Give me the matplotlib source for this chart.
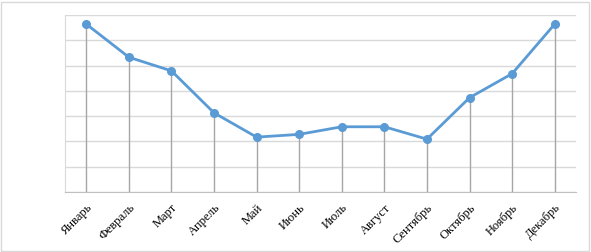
import matplotlib.pyplot as plt
from matplotlib.patches import Rectangle

# Monthly values
months = ["Январь", "Февраль", "Март", "Апрель", "Май", "Июнь",
          "Июль", "Август", "Сентябрь", "Октябрь", "Ноябрь", "Декабрь"]
values = [6.64, 5.33, 4.79, 3.13, 2.17, 2.28, 2.58, 2.58, 2.09, 3.73, 4.68, 6.64]

line_color = "#5B9BD5"

fig = plt.figure(figsize=(5.91, 2.52), dpi=100)
ax = fig.add_axes([65 / 591, 1 - 192 / 252, (576 - 65) / 591, (192 - 15) / 252])

x = list(range(len(months)))

# drop lines from each point down to the axis
ax.vlines(x, 0, values, color="#A6A6A6", linewidth=1, zorder=2)
ax.plot(x, values, color=line_color, linewidth=2, marker="o",
        markersize=5.5, zorder=3)

ax.set_xlim(-0.5, len(months) - 0.5)
ax.set_ylim(0, 7)
ax.set_yticks(range(0, 8))
ax.set_yticklabels([])
ax.tick_params(axis="y", length=0)
ax.grid(axis="y", color="#D9D9D9", linewidth=1)
ax.set_axisbelow(True)

ax.set_xticks(x)
ax.set_xticklabels(months, rotation=45, ha="right", va="top",
                   rotation_mode="anchor", fontsize=9,
                   family="Liberation Serif")
ax.tick_params(axis="x", length=0, pad=7)

for side in ["top", "right"]:
    ax.spines[side].set_visible(False)
ax.spines["left"].set_color("#D9D9D9")
ax.spines["bottom"].set_color("#BFBFBF")

# outer chart border
fig.patches.append(Rectangle((1 / 591, 1 / 252), 588 / 591, 249 / 252,
                             transform=fig.transFigure, fill=False,
                             edgecolor="#D9D9D9", linewidth=1))

fig.savefig("out.png", dpi=100)
